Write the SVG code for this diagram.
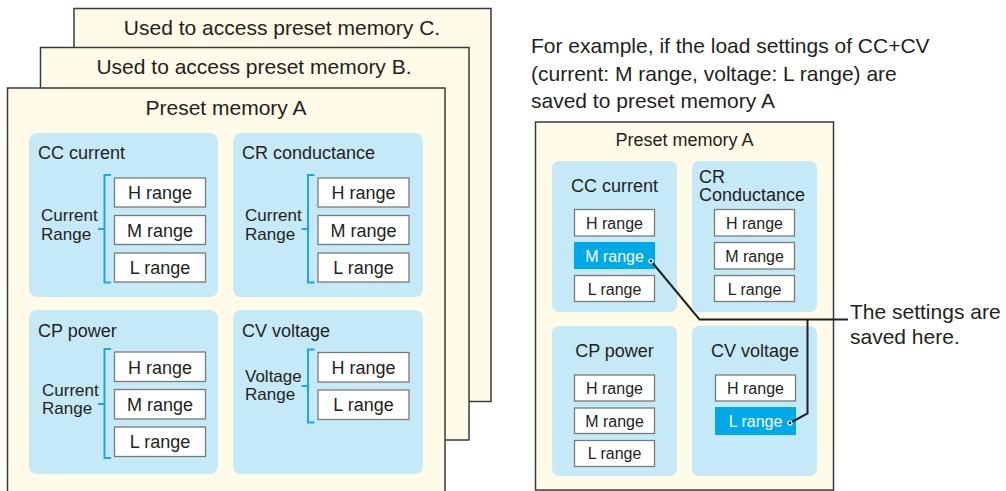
<svg xmlns="http://www.w3.org/2000/svg" width="1006" height="491" viewBox="0 0 1006 491">
<style>
text{font-family:"Liberation Sans",Arial,sans-serif;fill:#231f20}
.mem{fill:#fffbe8;stroke:#3a3a3a;stroke-width:1.5}
.grp{fill:#c6e9f8}
.rng{fill:#fff;stroke:#7a7a7a;stroke-width:1.3}
.sel{fill:#00a9e8}
.brk{fill:none;stroke:#1aa9e6;stroke-width:2}
.t21{font-size:21px}
.t18{font-size:18px}
.t17{font-size:17px}
.t16{font-size:16px}
.c{text-anchor:middle}
.w{fill:#fff}
.lead{fill:none;stroke:#231f20;stroke-width:2}
</style>
<rect width="1006" height="491" fill="#fff"/>

<g id="memC">
<rect class="mem" x="74" y="8.5" width="417" height="393"/>
<text class="t21 c" x="282" y="35">Used to access preset memory C.</text>
</g>
<g id="memB">
<rect class="mem" x="40.5" y="47.5" width="428.5" height="392.5"/>
<text class="t21 c" x="254" y="74">Used to access preset memory B.</text>
</g>
<g id="memA">
<rect class="mem" x="7.5" y="88" width="437.5" height="410"/>
<text class="t21 c" x="226" y="115">Preset memory A</text>
</g>

<g id="cc">
<rect class="grp" x="29" y="133" width="189" height="164" rx="8"/>
<text class="t18" x="38" y="159">CC current</text>
<text class="t17" x="41" y="221">Current</text>
<text class="t17" x="41" y="240">Range</text>
<path class="brk" d="M111,175 H104.5 V282.5 H111 M98,229 H104.5"/>
<rect class="rng" x="114.5" y="178" width="91" height="29"/>
<text class="t18 c" x="160" y="199">H range</text>
<rect class="rng" x="114.5" y="215.5" width="91" height="29"/>
<text class="t18 c" x="160" y="237">M range</text>
<rect class="rng" x="114.5" y="253" width="91" height="29"/>
<text class="t18 c" x="160" y="274">L range</text>
</g>

<g id="cr">
<rect class="grp" x="233" y="133" width="190" height="164" rx="8"/>
<text class="t18" x="242" y="159">CR conductance</text>
<text class="t17" x="245" y="221">Current</text>
<text class="t17" x="245" y="240">Range</text>
<path class="brk" d="M314.5,175 H308 V282.5 H314.5 M301.5,229 H308"/>
<rect class="rng" x="318" y="178" width="91" height="29"/>
<text class="t18 c" x="363.5" y="199">H range</text>
<rect class="rng" x="318" y="215.5" width="91" height="29"/>
<text class="t18 c" x="363.5" y="237">M range</text>
<rect class="rng" x="318" y="253" width="91" height="29"/>
<text class="t18 c" x="363.5" y="274">L range</text>
</g>

<g id="cp">
<rect class="grp" x="29" y="310" width="189" height="164" rx="8"/>
<text class="t18" x="38" y="337">CP power</text>
<text class="t17" x="42" y="396">Current</text>
<text class="t17" x="42" y="414">Range</text>
<path class="brk" d="M111,349 H104.5 V458 H111 M98,404 H104.5"/>
<rect class="rng" x="114.5" y="352" width="91" height="29.5"/>
<text class="t18 c" x="160" y="374">H range</text>
<rect class="rng" x="114.5" y="389.5" width="91" height="29.5"/>
<text class="t18 c" x="160" y="411">M range</text>
<rect class="rng" x="114.5" y="427" width="91" height="29.5"/>
<text class="t18 c" x="160" y="448">L range</text>
</g>

<g id="cv">
<rect class="grp" x="233" y="310" width="190" height="164" rx="8"/>
<text class="t18" x="242" y="337">CV voltage</text>
<text class="t17" x="245" y="382">Voltage</text>
<text class="t17" x="245" y="400">Range</text>
<path class="brk" d="M314.5,349.5 H308 V422.5 H314.5 M301.5,386 H308"/>
<rect class="rng" x="318" y="352.5" width="91" height="29.5"/>
<text class="t18 c" x="363.5" y="374">H range</text>
<rect class="rng" x="318" y="390" width="91" height="29.5"/>
<text class="t18 c" x="363.5" y="411">L range</text>
</g>

<g id="caption">
<text class="t21" x="531" y="53">For example, if the load settings of CC+CV</text>
<text class="t21" x="531" y="81">(current: M range, voltage: L range) are</text>
<text class="t21" x="531" y="108">saved to preset memory A</text>
</g>

<g id="memA2">
<rect class="mem" x="535.5" y="122" width="298" height="368"/>
<text class="t18 c" x="684.5" y="146">Preset memory A</text>
</g>

<g id="cc2">
<rect class="grp" x="552" y="161" width="125" height="151" rx="7"/>
<text class="t18 c" x="614.5" y="192">CC current</text>
<rect class="rng" x="574.5" y="209.5" width="80" height="26.5"/>
<text class="t16 c" x="614.5" y="229">H range</text>
<rect class="sel" x="574" y="242" width="81" height="27"/>
<text class="t16 c w" x="614.5" y="262">M range</text>
<rect class="rng" x="574.5" y="275.5" width="80" height="26"/>
<text class="t16 c" x="614.5" y="295">L range</text>
</g>

<g id="cr2">
<rect class="grp" x="692" y="161" width="125" height="151" rx="7"/>
<text class="t18" x="699" y="183">CR</text>
<text class="t18" x="699" y="201">Conductance</text>
<rect class="rng" x="714.5" y="209.5" width="80" height="26.5"/>
<text class="t16 c" x="754.5" y="229">H range</text>
<rect class="rng" x="714.5" y="242.5" width="80" height="26.5"/>
<text class="t16 c" x="754.5" y="262">M range</text>
<rect class="rng" x="714.5" y="275.5" width="80" height="26"/>
<text class="t16 c" x="754.5" y="295">L range</text>
</g>

<g id="cp2">
<rect class="grp" x="552" y="326" width="125" height="150" rx="7"/>
<text class="t18 c" x="614.5" y="357">CP power</text>
<rect class="rng" x="574.5" y="375" width="80" height="26"/>
<text class="t16 c" x="614.5" y="394">H range</text>
<rect class="rng" x="574.5" y="408" width="80" height="25.5"/>
<text class="t16 c" x="614.5" y="427">M range</text>
<rect class="rng" x="574.5" y="440.5" width="80" height="26"/>
<text class="t16 c" x="614.5" y="459">L range</text>
</g>

<g id="cv2">
<rect class="grp" x="692" y="326" width="125" height="150" rx="7"/>
<text class="t18 c" x="755" y="357">CV voltage</text>
<rect class="rng" x="715.5" y="375" width="80" height="26"/>
<text class="t16 c" x="755.5" y="394">H range</text>
<rect class="sel" x="715" y="407" width="81" height="28"/>
<text class="t16 c w" x="755.5" y="427">L range</text>
</g>

<g id="connectors">
<path class="lead" d="M651,261 L699.5,319.5 H848 M807.5,319.5 V413.5 L790,423"/>
<circle cx="651" cy="261" r="2" fill="#231f20" stroke="#fff" stroke-width="1.2"/>
<circle cx="790" cy="423" r="2" fill="#231f20" stroke="#fff" stroke-width="1.2"/>
</g>

<g id="note">
<text class="t21" x="850" y="319">The settings are</text>
<text class="t21" x="850" y="344">saved here.</text>
</g>
</svg>
